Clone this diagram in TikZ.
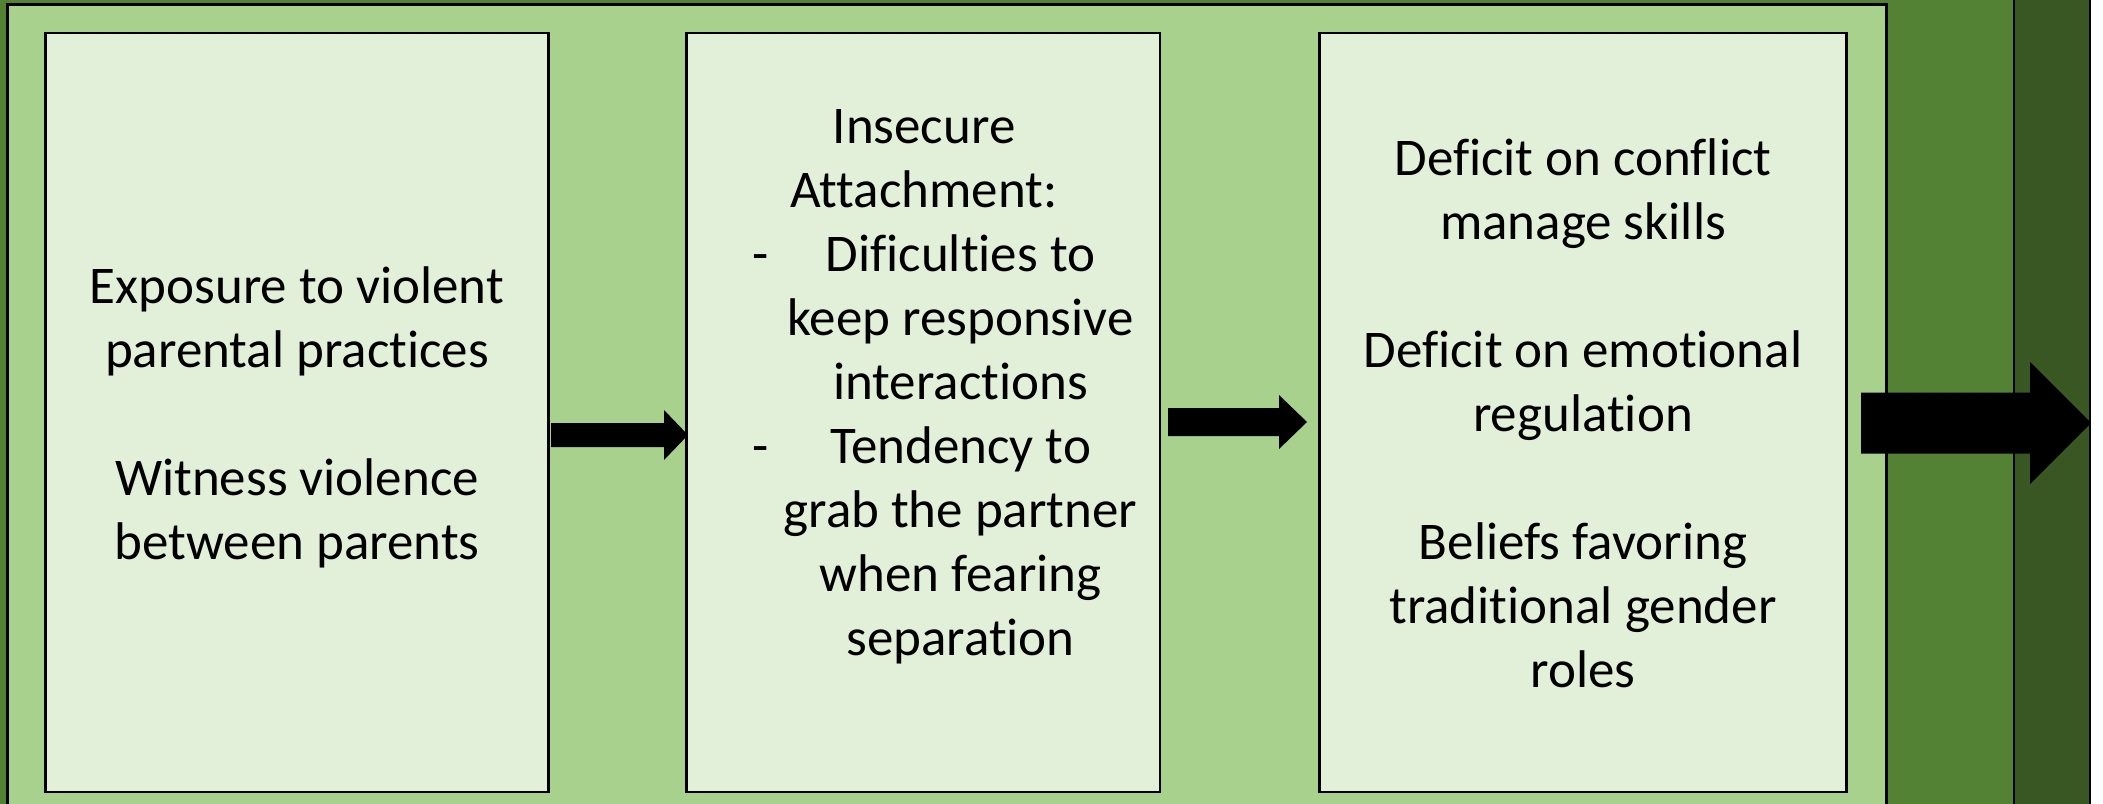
\documentclass[tikz,border=0pt]{standalone}
\usepackage{fontspec}
\setmainfont{Carlito}[Ligatures=NoCommon]
\definecolor{gDark}{HTML}{385723}
\definecolor{gMid}{HTML}{548235}
\definecolor{gLight}{HTML}{A9D18E}
\definecolor{gPale}{HTML}{E2F0D9}
\newcommand{\blockarrow}[6]{% x-start, x-tip, y-centre, shaft half, head half, head base
  \fill[black] (#1,{#3-#4}) -- (#6,{#3-#4}) -- (#6,{#3-#5}) -- (#2,#3)
    -- (#6,{#3+#5}) -- (#6,{#3+#4}) -- (#1,{#3+#4}) -- cycle;}
\begin{document}
\begin{tikzpicture}[x=1pt,y=-1pt,
  panel/.style={draw=black,line width=2.5pt},
  stagebox/.style={draw=black,line width=2.5pt,fill=gPale,inner sep=0pt,
    minimum height=759pt},
  ln/.style={anchor=base,inner sep=0pt,font=\fontsize{53}{64}\selectfont}]
\useasboundingbox (0,0) rectangle (2103,803);
\fill[white] (0,0) rectangle (2103,803);
% stacked background panels
\path[panel,fill=gDark] (-20,-20) rectangle (2090,830);
\path[panel,fill=gMid] (-20,-20) rectangle (2014,830);
\path[panel,fill=gLight] (7.5,4.5) rectangle (1886.5,830);
% the three stages
\node[stagebox,minimum width=503pt] (b1) at (297,412.5) {};
\node[stagebox,minimum width=473.5pt] (b2) at (923.3,412.5) {};
\node[stagebox,minimum width=527pt] (b3) at (1583.1,412.5) {};
% stage 1
\foreach \t/\yy [count=\i] in {Exposure to violent/303,parental practices/367,
    Witness violence/495,between parents/559}
  \node[ln] (a\i) at (297,\yy) {\t};
% stage 2
\node[ln] (h1) at (924,143) {Insecure};
\node[ln] (h2) at (924,207) {Attachment:};
\node[ln] (d1) at (761,271) {-};
\node[ln] (d2) at (761,463) {-};
\foreach \t/\yy [count=\i] in {Dificulties to/271,keep responsive/335,
    interactions/399,Tendency to/463,grab the partner/527,when fearing/591,
    separation/655}
  \node[ln] (c\i) at (960.5,\yy) {\t};
% stage 3
\foreach \t/\yy [count=\i] in {Deficit on conflict/175,manage skills/239,
    Deficit on emotional/367,regulation/431,Beliefs favoring/559,
    traditional gender/623,roles/687}
  \node[ln] (e\i) at (1583,\yy) {\t};
% block arrows between stages
\blockarrow{551}{688}{435}{12}{25}{664}
\blockarrow{1168}{1307}{422}{14}{27}{1279}
\blockarrow{1861}{2091}{423}{30.5}{61}{2030}
\end{tikzpicture}
\end{document}
